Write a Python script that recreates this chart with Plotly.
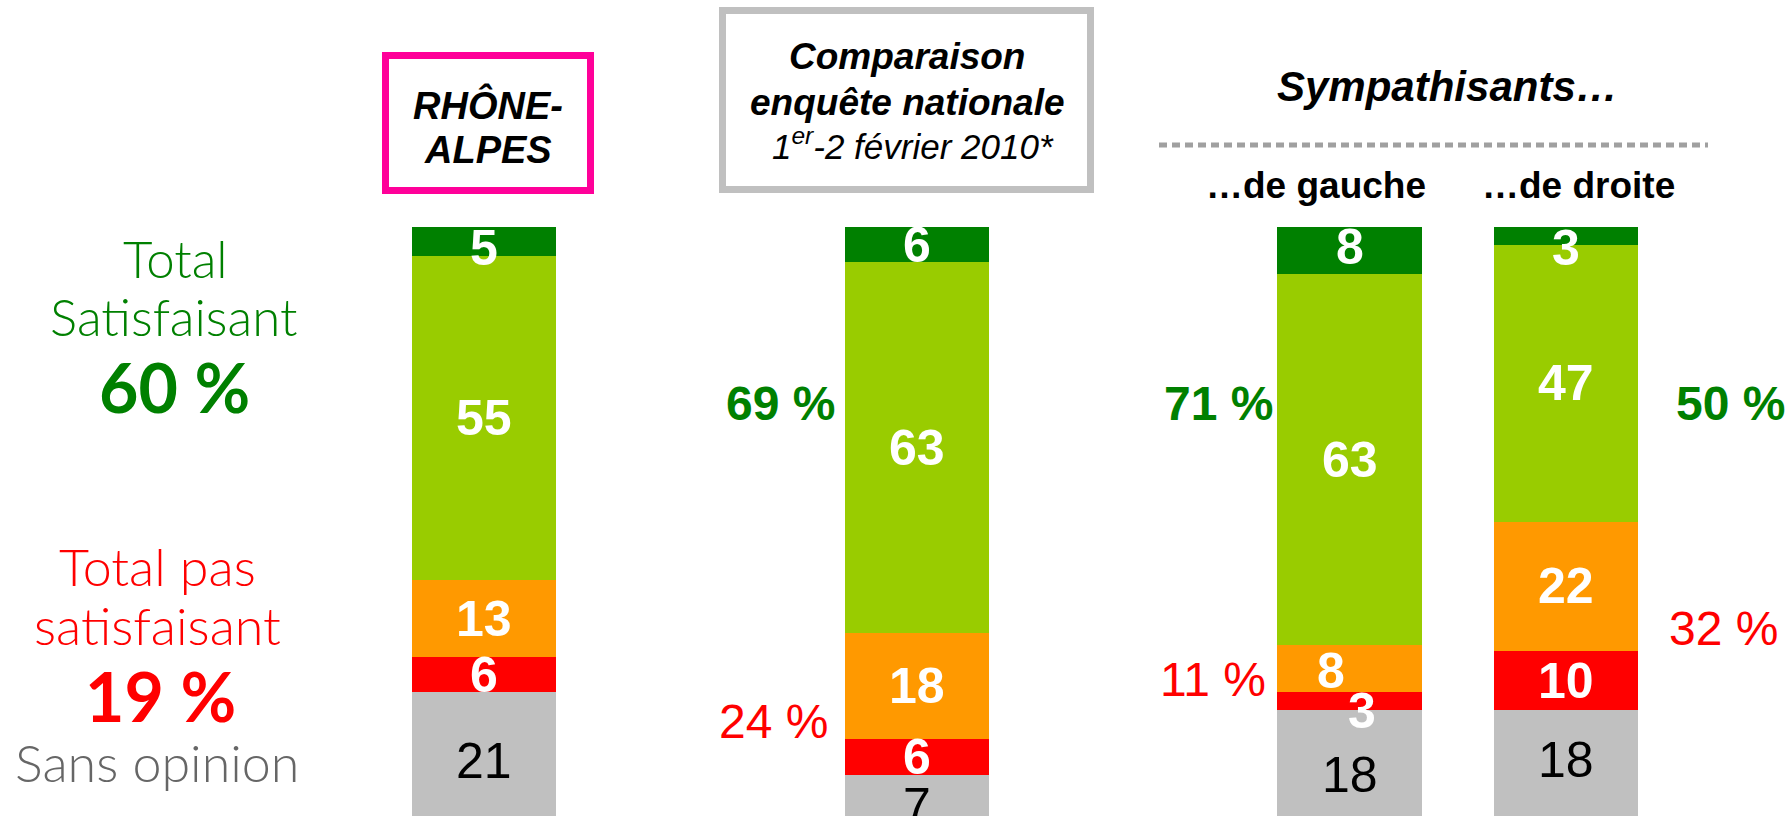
import plotly.graph_objects as go

# ---------------- data ----------------
categories = ["RHÔNE-ALPES", "Enquête nationale", "Sympathisants de gauche", "Sympathisants de droite"]
spacers = [" ", "  "]
tres_satisfaisant = [5, 6, 8, 3]
plutot_satisfaisant = [55, 63, 63, 47]
plutot_pas_satisfaisant = [13, 18, 8, 22]
pas_du_tout_satisfaisant = [6, 6, 3, 10]
sans_opinion = [21, 7, 18, 18]
total_satisfaisant = [60, 69, 71, 50]
total_pas_satisfaisant = [19, 24, 11, 32]

# ---------------- styles ----------------
W, H = 1788, 816
L, R, T, B = 376, 1674, 227, 816
C_DKGREEN = "#008000"
C_LTGREEN = "#99CC00"
C_ORANGE = "#FF9900"
C_RED = "#FF0000"
C_GRAY = "#C0C0C0"
ARIAL = "Liberation Sans, Arial, sans-serif"
GOTHIC = "Lato, Open Sans, sans-serif"


def px(x):
    return (x - L) / (R - L)


def py(y):
    return (B - y) / (B - T)


axis_order = [categories[0], spacers[0], categories[1], spacers[1], categories[2], categories[3]]

series = [
    ("Sans opinion", sans_opinion, C_GRAY, "black", "normal"),
    ("Pas du tout satisfaisant", pas_du_tout_satisfaisant, C_RED, "white", "bold"),
    ("Plutôt pas satisfaisant", plutot_pas_satisfaisant, C_ORANGE, "white", "bold"),
    ("Plutôt satisfaisant", plutot_satisfaisant, C_LTGREEN, "white", "bold"),
    ("Très satisfaisant", tres_satisfaisant, C_DKGREEN, "white", "bold"),
]

# label nudges (px) keyed by (series index, category index)
label_shift = {
    (0, 0): (0, -7), (0, 1): (0, -11), (0, 2): (0, -12), (0, 3): (0, 3),
    (1, 2): (12, -10),
    (2, 2): (-19, -2),
    (4, 0): (0, -6), (4, 2): (0, 4), (4, 3): (0, -12),
}

fig = go.Figure()
annotations = []
base = [0] * len(categories)
for si, (name, vals, color, tcolor, tweight) in enumerate(series):
    fig.add_trace(go.Bar(
        x=categories, y=vals, name=name,
        marker=dict(color=color, line=dict(width=0)),
        hoverinfo="x+y+name",
    ))
    for ci, v in enumerate(vals):
        dx, dy = label_shift.get((si, ci), (0, 0))
        annotations.append(dict(
            x=categories[ci], y=base[ci] + v / 2, xref="x", yref="y",
            text=str(v), showarrow=False, xshift=dx, yshift=dy,
            font=dict(family=ARIAL, size=50, color=tcolor, weight=tweight),
            xanchor="center", yanchor="middle",
        ))
        base[ci] += v


def txt(x, y, text, size, color, family=ARIAL, weight="normal", xanchor="center", style="normal"):
    annotations.append(dict(
        x=px(x), y=py(y), xref="paper", yref="paper", text=text, showarrow=False,
        xanchor=xanchor, yanchor="middle",
        font=dict(family=family, size=size, color=color, weight=weight, style=style),
    ))


# left-hand legend for the first bar
txt(175, 258, "Total", 51, C_DKGREEN, GOTHIC, 300)
txt(173, 316, "Satisfaisant", 51, C_DKGREEN, GOTHIC, 300)
txt(174, 386, f"{total_satisfaisant[0]} %", 68, C_DKGREEN, GOTHIC, "bold")
txt(158, 566, "Total pas", 52, C_RED, GOTHIC, 300)
txt(158, 625, "satisfaisant", 52, C_RED, GOTHIC, 300)
txt(160, 695, f"{total_pas_satisfaisant[0]} %", 68, C_RED, GOTHIC, "bold")
txt(157, 762, "Sans opinion", 52, "#666666", GOTHIC, 300)

# totals next to other bars
txt(837, 403, f"{total_satisfaisant[1]} %", 48, C_DKGREEN, weight="bold", xanchor="right")
txt(830, 721, f"{total_pas_satisfaisant[1]} %", 48, C_RED, xanchor="right")
txt(1275, 403, f"{total_satisfaisant[2]} %", 48, C_DKGREEN, weight="bold", xanchor="right")
txt(1268, 679, f"{total_pas_satisfaisant[2]} %", 48, C_RED, xanchor="right")
txt(1674, 403, f"{total_satisfaisant[3]} %", 48, C_DKGREEN, weight="bold", xanchor="left")
txt(1667, 628, f"{total_pas_satisfaisant[3]} %", 48, C_RED, xanchor="left")

# headers
txt(488, 105, "RHÔNE-", 38, "black", weight="bold", style="italic")
txt(488, 150, "ALPES", 38, "black", weight="bold", style="italic")
txt(907, 57, "Comparaison", 37, "black", weight="bold", style="italic")
txt(907, 102, "enquête nationale", 37, "black", weight="bold", style="italic")
txt(913, 144, "1<sup>er</sup>-2 février 2010*", 35, "black", style="italic")
txt(1447, 86, "Sympathisants…", 42, "black", weight="bold", style="italic")
txt(1316, 186, "…de gauche", 37, "black", weight="bold")
txt(1578, 186, "…de droite", 37, "black", weight="bold")

shapes = [
    dict(type="rect", xref="paper", yref="paper", x0=px(385.5), x1=px(590.5), y0=py(190.5), y1=py(55.5),
         line=dict(color="#FF0099", width=7), fillcolor="rgba(0,0,0,0)"),
    dict(type="rect", xref="paper", yref="paper", x0=px(722.5), x1=px(1090.5), y0=py(189.5), y1=py(10.5),
         line=dict(color="#C0C0C0", width=7), fillcolor="rgba(0,0,0,0)"),
    dict(type="line", xref="paper", yref="paper", x0=px(1159), x1=px(1708), y0=py(145), y1=py(145),
         line=dict(color="#A0A0A0", width=5, dash="8px,5px")),
]

fig.update_layout(
    width=W, height=H, autosize=False,
    margin=dict(l=L, r=W - R, t=T, b=H - B, pad=0),
    barmode="stack", bargap=0.334,
    showlegend=False,
    plot_bgcolor="white", paper_bgcolor="white",
    xaxis=dict(type="category", categoryorder="array", categoryarray=axis_order,
               range=[-0.5, len(axis_order) - 0.5], showticklabels=False, showgrid=False,
               zeroline=False, showline=False, ticks=""),
    yaxis=dict(range=[0, 100], showticklabels=False, showgrid=False, zeroline=False,
               showline=False, ticks=""),
    annotations=annotations,
    shapes=shapes,
)

fig.write_html(
    "out.html",
    config={"displayModeBar": False},
    post_script="document.body.style.margin='0';document.body.style.overflow='hidden';",
)
